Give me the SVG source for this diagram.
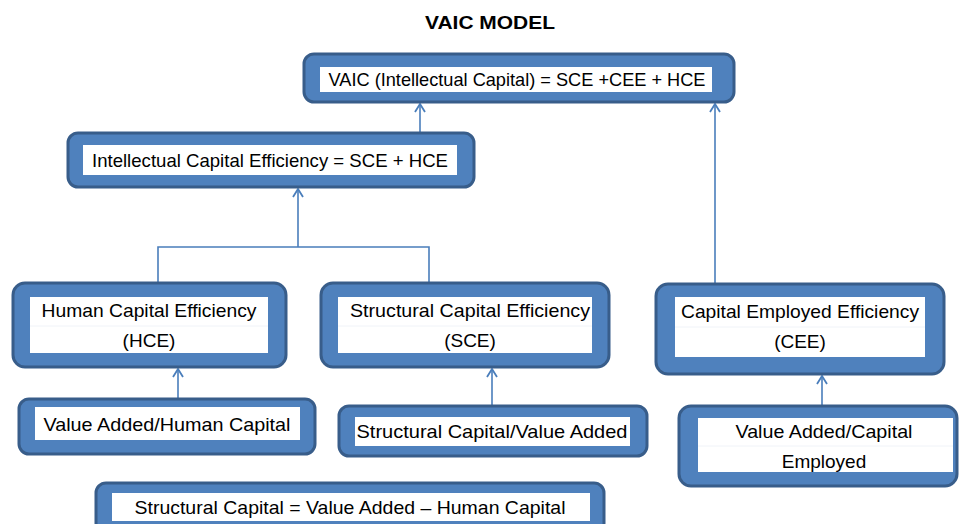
<svg xmlns="http://www.w3.org/2000/svg" width="960" height="524" viewBox="0 0 960 524">
<defs>
<marker id="arr" markerWidth="14" markerHeight="14" refX="11" refY="7" orient="auto" markerUnits="userSpaceOnUse" viewBox="0 0 14 14" overflow="visible">
<path d="M3,2 L11,7 L3,12" fill="none" stroke="#4A7EBB" stroke-width="1.8"/>
</marker>
<style>
.box{fill:#4F81BD;stroke:#385D8A;stroke-width:3}
.in{fill:#FFFFFF}
.sep{stroke:#F0F3F8;stroke-width:1}
.t{font-family:"Liberation Sans",Arial,sans-serif;font-size:19px;fill:#000;text-anchor:middle}
.title{font-family:"Liberation Sans",Arial,sans-serif;font-size:19px;font-weight:bold;fill:#000;text-anchor:middle}
.c{fill:none;stroke:#4A7EBB;stroke-width:1.6}
</style>
</defs>
<rect width="960" height="524" fill="#FFFFFF"/>
<text class="title" x="490" y="29" textLength="130" lengthAdjust="spacingAndGlyphs">VAIC MODEL</text>

<g id="connectors">
<path class="c" d="M420,132 V104" marker-end="url(#arr)"/>
<path class="c" d="M715,283 V104" marker-end="url(#arr)"/>
<path class="c" d="M158,282 V247 H429 V282"/>
<path class="c" d="M298,247 V189" marker-end="url(#arr)"/>
<path class="c" d="M178,398 V369" marker-end="url(#arr)"/>
<path class="c" d="M492,405 V369" marker-end="url(#arr)"/>
<path class="c" d="M822,405 V376" marker-end="url(#arr)"/>
</g>

<g id="vaic">
<rect class="box" x="304" y="54" width="430" height="48" rx="10"/>
<rect class="in" x="320" y="67" width="392" height="25"/>
<text class="t" x="517" y="86" textLength="377" lengthAdjust="spacingAndGlyphs">VAIC (Intellectual Capital) = SCE +CEE + HCE</text>
</g>

<g id="ice">
<rect class="box" x="68" y="133" width="406" height="54" rx="10"/>
<rect class="in" x="83" y="145" width="374" height="30"/>
<text class="t" x="270" y="167" textLength="356" lengthAdjust="spacingAndGlyphs">Intellectual Capital Efficiency = SCE + HCE</text>
</g>

<g id="hce">
<rect class="box" x="13" y="283" width="273" height="84" rx="12"/>
<rect class="in" x="30" y="297" width="238" height="56"/>
<line class="sep" x1="30" y1="326" x2="268" y2="326"/>
<text class="t" x="149" y="317" textLength="215" lengthAdjust="spacingAndGlyphs">Human Capital Efficiency</text>
<text class="t" x="149" y="347">(HCE)</text>
</g>

<g id="sce">
<rect class="box" x="321" y="283" width="288" height="84" rx="12"/>
<rect class="in" x="338" y="297" width="254" height="56"/>
<line class="sep" x1="338" y1="326" x2="592" y2="326"/>
<text class="t" x="470" y="317" textLength="240" lengthAdjust="spacingAndGlyphs">Structural Capital Efficiency</text>
<text class="t" x="470" y="347">(SCE)</text>
</g>

<g id="cee">
<rect class="box" x="656" y="284" width="288" height="90" rx="12"/>
<rect class="in" x="675" y="297" width="250" height="60"/>
<line class="sep" x1="675" y1="327" x2="925" y2="327"/>
<text class="t" x="800" y="318" textLength="238" lengthAdjust="spacingAndGlyphs">Capital Employed Efficiency</text>
<text class="t" x="800" y="348">(CEE)</text>
</g>

<g id="vahc">
<rect class="box" x="19" y="399" width="296" height="55" rx="10"/>
<rect class="in" x="35" y="407" width="265" height="33"/>
<text class="t" x="167" y="431" textLength="247" lengthAdjust="spacingAndGlyphs">Value Added/Human Capital</text>
</g>

<g id="scva">
<rect class="box" x="339" y="406" width="308" height="50" rx="10"/>
<rect class="in" x="355" y="417" width="275" height="29"/>
<text class="t" x="492" y="438" textLength="271" lengthAdjust="spacingAndGlyphs">Structural Capital/Value Added</text>
</g>

<g id="vace">
<rect class="box" x="679" y="406" width="278" height="80" rx="12"/>
<rect class="in" x="698" y="418" width="255" height="54"/>
<line class="sep" x1="698" y1="446" x2="953" y2="446"/>
<text class="t" x="824" y="438" textLength="177" lengthAdjust="spacingAndGlyphs">Value Added/Capital</text>
<text class="t" x="824" y="468">Employed</text>
</g>

<g id="sc">
<rect class="box" x="96" y="483" width="508" height="50" rx="10"/>
<rect class="in" x="112" y="493" width="478" height="28"/>
<text class="t" x="350" y="514" textLength="431" lengthAdjust="spacingAndGlyphs">Structural Capital = Value Added – Human Capital</text>
</g>
</svg>
